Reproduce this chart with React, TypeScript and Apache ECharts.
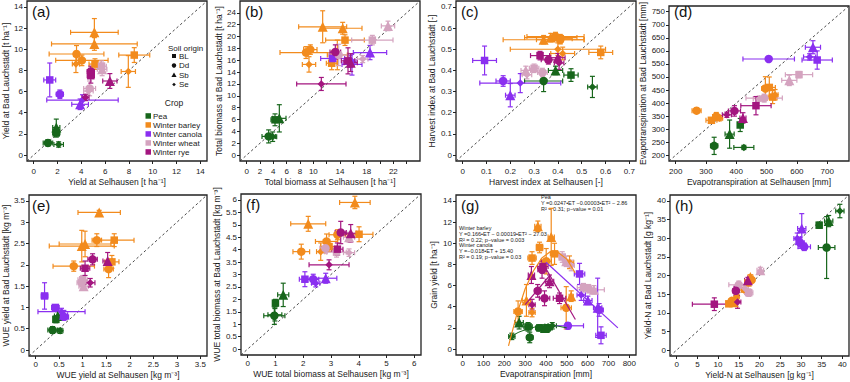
import React, { useEffect, useRef } from 'react';
import * as echarts from 'echarts';

const FONT = "'Liberation Sans', Arial, sans-serif";
const TXT = '#1a1a1a';

const CROP_NAMES = ['Pea', 'Winter barley', 'Winter canola', 'Winter wheat', 'Winter rye'];
const CROP_CODES = ['P', 'B', 'C', 'W', 'R'];
const CROP_COLORS = ['#17661b', '#f28b1d', '#8a2ff0', '#d4a3bf', '#a3157f'];
const SOIL_CODES = ['BL', 'Dd', 'Sb', 'Se'];
const SOIL_SYMBOLS = ['rect', 'circle', 'triangle', 'diamond'];
const SOIL_SIZES = [7.5, 8.5, 10, 7.5];

// rows: [crop, soil, x, y, xerr, yerr]
const panelA = [
  ['P', 'BL', 1.9, 2.1, 0.3, 0.4], ['P', 'Dd', 1.2, 1.15, 0.4, 0.3], ['P', 'Sb', 1.9, 2.6, 0.3, 0.8], ['P', 'Se', 2.1, 1.0, 0.4, 0.25],
  ['B', 'Sb', 5.1, 11.6, 2.0, 1.3], ['B', 'Sb', 5.1, 10.5, 3.6, 0.6], ['B', 'Dd', 3.6, 9.55, 2.3, 0.8], ['B', 'Dd', 4.05, 8.95, 2.2, 0.5],
  ['B', 'Se', 3.55, 8.6, 0.3, 0.8], ['B', 'BL', 8.45, 9.45, 1.3, 0.7], ['B', 'Se', 7.95, 7.9, 0.6, 1.5], ['B', 'BL', 5.15, 8.6, 0.5, 0.5],
  ['C', 'BL', 1.35, 7.1, 0.5, 1.6], ['C', 'Dd', 2.2, 5.75, 0.3, 0.4], ['C', 'Sb', 3.9, 4.8, 0.7, 0.5], ['C', 'Se', 4.1, 5.2, 3.0, 0.5],
  ['W', 'BL', 5.7, 8.4, 0.4, 0.5], ['W', 'Sb', 5.75, 8.1, 0.4, 0.6], ['W', 'Dd', 4.7, 6.3, 0.5, 0.7], ['W', 'Se', 4.6, 6.05, 0.4, 0.4],
  ['R', 'BL', 4.8, 7.5, 0.3, 0.7], ['R', 'Dd', 4.8, 7.9, 0.3, 0.5], ['R', 'Sb', 6.4, 7.0, 0.6, 0.7], ['R', 'Se', 4.35, 5.45, 0.3, 0.3],
];
const panelB = [
  ['P', 'BL', 4.25, 5.95, 0.6, 1.0], ['P', 'Dd', 3.3, 3.15, 1.0, 1.1], ['P', 'Sb', 4.9, 6.2, 1.0, 2.3], ['P', 'Se', 3.9, 3.1, 0.6, 0.8],
  ['B', 'Sb', 11.4, 21.65, 3.6, 2.7], ['B', 'Sb', 14.4, 21.4, 2.9, 1.0], ['B', 'BL', 14.75, 19.4, 2.9, 0.9], ['B', 'Dd', 9.55, 17.8, 1.0, 0.8],
  ['B', 'Dd', 8.9, 17.3, 3.9, 1.0], ['B', 'Se', 9.35, 15.3, 1.0, 1.3], ['B', 'BL', 12.75, 15.5, 0.8, 1.1], ['B', 'Se', 13.6, 16.9, 1.5, 2.5],
  ['C', 'BL', 12.9, 16.3, 1.8, 1.0], ['C', 'Dd', 15.5, 15.8, 0.9, 1.0], ['C', 'Sb', 18.5, 17.3, 2.5, 1.2], ['C', 'Se', 15.8, 15.3, 1.5, 1.8],
  ['W', 'BL', 18.85, 19.4, 3.1, 0.8], ['W', 'Dd', 13.8, 16.9, 1.5, 1.8], ['W', 'Sb', 21.2, 21.8, 1.0, 0.8], ['W', 'Se', 17.4, 16.2, 0.8, 0.6],
  ['R', 'BL', 15.2, 15.9, 1.0, 2.2], ['R', 'Dd', 13.3, 17.4, 0.8, 1.2], ['R', 'Sb', 15.6, 15.6, 1.0, 1.5], ['R', 'Se', 11.2, 12.0, 3.7, 1.1],
];
const panelC = [
  ['P', 'BL', 0.455, 0.378, 0.03, 0.03], ['P', 'Dd', 0.34, 0.35, 0.08, 0.05], ['P', 'Sb', 0.39, 0.40, 0.03, 0.02], ['P', 'Se', 0.545, 0.322, 0.02, 0.05],
  ['B', 'Sb', 0.34, 0.545, 0.17, 0.02], ['B', 'Sb', 0.37, 0.555, 0.11, 0.02], ['B', 'Dd', 0.39, 0.56, 0.12, 0.02], ['B', 'Dd', 0.41, 0.545, 0.10, 0.02],
  ['B', 'Se', 0.40, 0.50, 0.20, 0.03], ['B', 'BL', 0.58, 0.485, 0.05, 0.03], ['B', 'BL', 0.41, 0.55, 0.05, 0.02], ['B', 'Se', 0.42, 0.48, 0.05, 0.03],
  ['C', 'BL', 0.092, 0.447, 0.05, 0.068], ['C', 'Dd', 0.17, 0.35, 0.03, 0.025], ['C', 'Sb', 0.20, 0.283, 0.02, 0.055], ['C', 'Se', 0.242, 0.34, 0.17, 0.045],
  ['W', 'Sb', 0.265, 0.40, 0.02, 0.02], ['W', 'BL', 0.30, 0.41, 0.02, 0.02], ['W', 'Dd', 0.335, 0.39, 0.02, 0.02], ['W', 'Se', 0.27, 0.38, 0.02, 0.02],
  ['R', 'BL', 0.325, 0.47, 0.04, 0.02], ['R', 'Dd', 0.36, 0.45, 0.03, 0.02], ['R', 'Sb', 0.40, 0.46, 0.03, 0.02], ['R', 'Se', 0.405, 0.435, 0.02, 0.03],
];
const panelD = [
  ['P', 'Dd', 327, 236, 12, 33], ['P', 'Se', 425, 230, 33, 8], ['P', 'Sb', 378, 281, 15, 54], ['P', 'BL', 413, 316, 8, 25],
  ['B', 'Dd', 269, 371, 15, 10], ['B', 'BL', 318, 334, 18, 10], ['B', 'Dd', 334, 349, 12, 15], ['B', 'Se', 345, 342, 10, 10],
  ['B', 'BL', 509, 460, 20, 40], ['B', 'Dd', 496, 456, 12, 45], ['B', 'BL', 520, 423, 15, 25], ['B', 'Se', 528, 432, 10, 20],
  ['C', 'Dd', 507, 569, 85, 8], ['C', 'Sb', 653, 614, 25, 25], ['C', 'Se', 642, 577, 20, 12], ['C', 'BL', 667, 565, 50, 35],
  ['W', 'BL', 607, 509, 45, 12], ['W', 'Sb', 575, 487, 25, 20], ['W', 'Dd', 492, 419, 60, 15], ['W', 'Se', 476, 417, 20, 10],
  ['R', 'BL', 465, 390, 50, 35], ['R', 'Dd', 394, 370, 20, 20], ['R', 'Se', 369, 355, 15, 10], ['R', 'Sb', 422, 343, 10, 20],
];
const panelE = [
  ['P', 'BL', 0.43, 0.72, 0.05, 0.08], ['P', 'Dd', 0.36, 0.47, 0.1, 0.08], ['P', 'Sb', 0.47, 0.8, 0.07, 0.1], ['P', 'Se', 0.52, 0.45, 0.06, 0.06],
  ['B', 'Sb', 1.35, 3.23, 0.45, 0.05], ['B', 'Sb', 0.98, 2.44, 0.69, 0.37], ['B', 'Sb', 1.05, 2.49, 0.55, 0.3], ['B', 'Dd', 1.3, 2.58, 0.1, 0.15],
  ['B', 'BL', 1.67, 2.58, 0.42, 0.15], ['B', 'Dd', 0.81, 1.97, 0.44, 0.12], ['B', 'BL', 1.62, 2.07, 0.15, 0.15], ['B', 'Dd', 1.55, 1.9, 0.1, 0.2],
  ['C', 'BL', 0.19, 1.27, 0.07, 0.31], ['C', 'BL', 0.42, 1.0, 0.08, 0.06], ['C', 'Sb', 0.6, 0.83, 0.08, 0.1], ['C', 'Se', 0.55, 0.9, 0.5, 0.08], ['C', 'Dd', 0.6, 0.78, 0.1, 0.08],
  ['W', 'BL', 1.0, 1.65, 0.1, 0.1], ['W', 'Dd', 0.98, 1.58, 0.1, 0.1], ['W', 'Sb', 1.02, 1.5, 0.1, 0.1], ['W', 'Se', 1.0, 1.6, 0.08, 0.08],
  ['R', 'Sb', 1.53, 2.09, 0.1, 0.2], ['R', 'Dd', 1.21, 2.13, 0.1, 0.13], ['R', 'BL', 1.05, 1.92, 0.1, 0.17], ['R', 'Se', 1.16, 1.58, 0.1, 0.1],
];
const panelF = [
  ['P', 'Sb', 1.28, 2.18, 0.2, 0.47], ['P', 'BL', 1.0, 1.85, 0.1, 0.15], ['P', 'Dd', 0.96, 1.34, 0.38, 0.35], ['P', 'Se', 0.98, 1.38, 0.25, 0.25],
  ['B', 'Sb', 3.86, 5.9, 0.55, 0.25], ['B', 'Sb', 2.18, 5.04, 0.63, 0.3], ['B', 'BL', 4.01, 4.62, 0.5, 0.3], ['B', 'Dd', 2.84, 4.33, 0.4, 0.3],
  ['B', 'Dd', 1.93, 3.92, 0.3, 0.3], ['B', 'Se', 2.63, 3.92, 0.15, 0.35], ['B', 'Dd', 3.23, 4.6, 0.3, 0.2], ['B', 'BL', 2.93, 4.12, 0.3, 0.2],
  ['C', 'BL', 2.06, 2.81, 0.2, 0.3], ['C', 'Dd', 2.36, 2.81, 0.2, 0.2], ['C', 'Se', 2.45, 2.65, 0.15, 0.15], ['C', 'Sb', 2.81, 2.85, 0.4, 0.2],
  ['W', 'BL', 3.2, 3.9, 0.35, 0.2], ['W', 'Dd', 2.8, 4.06, 0.2, 0.2], ['W', 'Sb', 3.65, 4.5, 0.2, 0.2], ['W', 'Se', 3.65, 3.88, 0.2, 0.15],
  ['R', 'Dd', 3.35, 4.69, 0.2, 0.45], ['R', 'Sb', 3.71, 4.66, 0.2, 0.35], ['R', 'BL', 3.23, 4.02, 0.2, 0.25], ['R', 'Se', 2.93, 3.39, 0.72, 0.2],
];
const panelG = [
  ['P', 'Sb', 271, 2.5, 20, 0.6], ['P', 'BL', 314, 2.1, 20, 0.4], ['P', 'Dd', 322, 1.1, 15, 0.5], ['P', 'Se', 236, 1.2, 15, 0.3],
  ['P', 'BL', 370, 2.0, 20, 0.3], ['P', 'Sb', 395, 2.0, 25, 0.3], ['P', 'Dd', 410, 2.0, 20, 0.3], ['P', 'Se', 430, 2.2, 20, 0.3],
  ['B', 'Sb', 361, 11.6, 15, 0.5], ['B', 'Sb', 425, 10.6, 15, 2.7], ['B', 'BL', 369, 9.6, 15, 0.5], ['B', 'BL', 441, 9.0, 20, 1.0],
  ['B', 'BL', 333, 8.6, 20, 0.6], ['B', 'Dd', 401, 8.3, 25, 1.2], ['B', 'Se', 513, 8.2, 20, 0.6], ['B', 'Sb', 306, 4.6, 20, 1.5],
  ['B', 'Dd', 266, 3.55, 20, 1.0], ['B', 'Se', 333, 3.45, 15, 0.4], ['B', 'Dd', 497, 3.9, 25, 2.0], ['B', 'Sb', 521, 5.0, 10, 0.5],
  ['W', 'BL', 478, 8.7, 15, 0.5], ['W', 'Sb', 497, 8.3, 15, 0.5], ['W', 'Se', 521, 7.9, 15, 0.5], ['W', 'BL', 580, 5.8, 30, 0.4],
  ['W', 'Dd', 605, 5.7, 40, 0.4], ['W', 'Sb', 630, 5.6, 50, 0.4],
  ['R', 'BL', 385, 7.8, 25, 0.6], ['R', 'Dd', 381, 7.5, 20, 0.8], ['R', 'Sb', 330, 7.0, 15, 0.8], ['R', 'Sb', 417, 6.4, 20, 0.6],
  ['R', 'Dd', 393, 4.8, 25, 0.7], ['R', 'BL', 465, 4.8, 30, 0.5], ['R', 'Se', 333, 4.2, 15, 0.5], ['R', 'Dd', 360, 5.5, 15, 0.6],
  ['C', 'BL', 561, 7.1, 25, 1.0], ['C', 'Se', 569, 5.1, 20, 0.5], ['C', 'Sb', 601, 4.6, 20, 0.4], ['C', 'Sb', 648, 3.9, 20, 2.8],
  ['C', 'Dd', 655, 3.7, 20, 0.6], ['C', 'Dd', 505, 2.2, 75, 0.3], ['C', 'BL', 664, 1.3, 25, 0.8],
];
const panelH = [
  ['P', 'BL', 34.4, 33.5, 0.6, 0.8], ['P', 'Dd', 36.2, 27.5, 2.0, 8.3], ['P', 'Sb', 36.7, 34.6, 1.0, 1.5], ['P', 'Se', 39.4, 37.3, 1.0, 1.8],
  ['B', 'Sb', 17.8, 19.6, 0.6, 0.6], ['B', 'Dd', 18.1, 18.8, 0.6, 0.6], ['B', 'BL', 12.6, 12.4, 0.6, 0.6], ['B', 'Dd', 13.3, 13.2, 0.6, 0.6],
  ['B', 'Se', 14.5, 14.3, 0.6, 0.6], ['B', 'Se', 16.2, 16.1, 0.6, 0.6], ['B', 'BL', 17.2, 18.0, 0.6, 0.6], ['B', 'Sb', 13.8, 12.8, 0.6, 0.6],
  ['C', 'Sb', 30.2, 32.6, 1.0, 4.0], ['C', 'Se', 29.1, 29.9, 0.8, 1.5], ['C', 'Dd', 29.8, 28.8, 1.0, 1.5], ['C', 'Dd', 30.8, 27.7, 1.5, 1.0],
  ['W', 'Sb', 20.2, 21.4, 0.8, 0.8], ['W', 'BL', 17.4, 15.4, 1.0, 1.0], ['W', 'Dd', 15.0, 17.5, 2.4, 1.0], ['W', 'Se', 16.5, 16.5, 0.8, 0.8],
  ['R', 'BL', 9.1, 12.3, 5.3, 1.7], ['R', 'Dd', 14.3, 15.9, 0.8, 1.2], ['R', 'Se', 14.7, 12.9, 0.8, 1.7], ['R', 'Sb', 17.2, 18.7, 0.8, 0.8],
];

// regression lines in (g)
const gPeaFit = [[230, 1.2], [270, 1.6], [310, 1.9], [350, 2.1], [400, 2.2], [450, 2.2], [500, 2.0]];
const gBarleyFit = [[220, 0.3], [260, 3.3], [300, 5.7], [340, 7.4], [380, 8.6], [420, 9.2], [460, 9.1], [500, 8.5], [540, 7.2]];
const gCanolaFit = [[400, 8.2], [745, 2.0]];
const gRyeFitUp = [[300, 4.2], [420, 7.0]];
const gRyeFitDown = [[385, 8.1], [541, 2.8]];

// tick values / labels
const ticksA = [0, 2, 4, 6, 8, 10, 12, 14];
const ticksB = [0, 2, 4, 6, 8, 10, 12, 14, 16, 18, 20, 22, 24];
const labelsBx = [0, 2, 4, 6, 8, 10, 14, 18, 22];
const ticksC = [0, 0.1, 0.2, 0.3, 0.4, 0.5, 0.6, 0.7];
const ticksDx = [200, 300, 400, 500, 600, 700];
const ticksDy = [200, 250, 300, 350, 400, 450, 500, 550, 600, 650, 700, 750];
const ticksE = [0, 0.5, 1, 1.5, 2, 2.5, 3, 3.5];
const ticksFx = [0, 1, 2, 3, 4, 5, 6];
const ticksFy = [0, 0.5, 1, 1.5, 2, 2.5, 3, 3.5, 4, 4.5, 5, 5.5, 6];
const ticksGx = [0, 100, 200, 300, 400, 500, 600, 700, 800];
const ticksGy = [0, 2, 4, 6, 8, 10, 12, 14];
const ticksH = [0, 5, 10, 15, 20, 25, 30, 35, 40];

type Panel = {
  tag: string; rows: any[]; box: number[];
  xr: number[]; yr: number[]; xt: number[]; xl: number[]; yt: number[]; yl: number[];
  xn: string; yn: string; yGap: number; xGap: number; xMargin: number; diag: boolean;
};

const panels: Panel[] = [
  { tag: '(a)', rows: panelA, box: [27, 1, 180, 160], xr: [-0.56, 14.56], yr: [-0.56, 14.56], xt: ticksA, xl: ticksA, yt: ticksA, yl: ticksA,
    xn: 'Yield at Selhausen [t ha⁻¹]', yn: 'Yield at Bad Lauchstädt [t ha⁻¹]', yGap: 15, xGap: 16, xMargin: 6, diag: true },
  { tag: '(b)', rows: panelB, box: [240, 1, 180, 160], xr: [-1, 26], yr: [-1, 26], xt: ticksB, xl: labelsBx, yt: ticksB, yl: ticksB,
    xn: 'Total biomass at Selhausen [t ha⁻¹]', yn: 'Total biomass at Bad Lauchstädt [t ha⁻¹]', yGap: 16, xGap: 16, xMargin: 6, diag: true },
  { tag: '(c)', rows: panelC, box: [456, 1, 180, 160], xr: [-0.028, 0.728], yr: [-0.028, 0.728], xt: ticksC, xl: ticksC, yt: ticksC, yl: ticksC,
    xn: 'Harvest index at Selhausen [-]', yn: 'Harvest index at Bad Lauchstädt [-]', yGap: 18, xGap: 16, xMargin: 6, diag: true },
  { tag: '(d)', rows: panelD, box: [669, 1, 180, 160], xr: [178, 772], yr: [178, 772], xt: ticksDx, xl: ticksDx, yt: ticksDy, yl: ticksDy,
    xn: 'Evapotranspiration at Selhausen [mm]', yn: 'Evapotranspiration at Bad Lauchstädt [mm]', yGap: 21, xGap: 16, xMargin: 6, diag: true },
  { tag: '(e)', rows: panelE, box: [27, 195, 180, 161], xr: [-0.14, 3.64], yr: [-0.14, 3.64], xt: ticksE, xl: ticksE, yt: ticksE, yl: ticksE,
    xn: 'WUE yield at Selhausen [kg m⁻³]', yn: 'WUE yield at Bad Lauchstädt [kg m⁻³]', yGap: 16, xGap: 14, xMargin: 4, diag: true },
  { tag: '(f)', rows: panelF, box: [241, 194, 180, 161], xr: [-0.24, 6.24], yr: [-0.24, 6.24], xt: ticksFx, xl: ticksFx, yt: ticksFy, yl: ticksFy,
    xn: 'WUE total biomass at Selhausen [kg m⁻³]', yn: 'WUE total biomass at Bad Lauchstädt [kg m⁻³]', yGap: 17, xGap: 14, xMargin: 4, diag: true },
  { tag: '(g)', rows: panelG, box: [456, 195, 180, 160], xr: [-32, 832], yr: [-0.56, 14.56], xt: ticksGx, xl: ticksGx, yt: ticksGy, yl: ticksGy,
    xn: 'Evapotranspiration [mm]', yn: 'Grain yield [t ha⁻¹]', yGap: 18, xGap: 14, xMargin: 4, diag: false },
  { tag: '(h)', rows: panelH, box: [670, 195, 179, 161], xr: [-1.6, 41.6], yr: [-1.6, 41.6], xt: ticksH, xl: ticksH, yt: ticksH, yl: ticksH,
    xn: 'Yield-N at Selhausen [g kg⁻¹]', yn: 'Yield-N at Bad Lauchstädt [g kg⁻¹]', yGap: 18, xGap: 14, xMargin: 4, diag: true },
];

const gNotesRight = ['Pea', 'Y =0.0247•ET −0.00003•ET² − 2.86', 'R² = 0.31; p−value = 0.01'];
const gNotesLeft = ['Winter barley', 'Y =0.166•ET − 0.00019•ET² − 27.03', 'R² = 0.22; p−value = 0.003',
  'Winter canola', 'Y =−0.018•ET + 15.40', 'R² = 0.19; p−value = 0.03'];

function buildOption() {
  const grid: any[] = [];
  const xAxis: any[] = [];
  const yAxis: any[] = [];
  const series: any[] = [];
  const graphic: any[] = [];
  const nameStyle = { fontSize: 8.5, color: TXT, fontFamily: FONT };

  panels.forEach((p, i) => {
    grid.push({ left: p.box[0], top: p.box[1], width: p.box[2], height: p.box[3], show: true,
      borderColor: '#222', borderWidth: 1.3, backgroundColor: 'transparent', containLabel: false });
    xAxis.push({
      type: 'value', gridIndex: i, min: p.xr[0], max: p.xr[1], position: 'bottom',
      axisLine: { show: false, onZero: false }, splitLine: { show: false },
      axisTick: { show: true, inside: false, length: 3, lineStyle: { color: '#222', width: 1 }, customValues: p.xt },
      axisLabel: { show: true, customValues: p.xl, margin: p.xMargin, fontSize: 8, color: TXT, fontFamily: FONT, hideOverlap: false },
      name: p.xn, nameLocation: 'middle', nameGap: p.xGap, nameTextStyle: nameStyle,
    });
    yAxis.push({
      type: 'value', gridIndex: i, min: p.yr[0], max: p.yr[1], position: 'left',
      axisLine: { show: false, onZero: false }, splitLine: { show: false },
      axisTick: { show: true, inside: false, length: 3, lineStyle: { color: '#222', width: 1 }, customValues: p.yt },
      axisLabel: { show: true, customValues: p.yl, margin: 4, fontSize: 8, color: TXT, fontFamily: FONT, hideOverlap: false },
      name: p.yn, nameLocation: 'middle', nameGap: p.yGap, nameTextStyle: nameStyle,
    });
    if (p.diag) {
      series.push({ type: 'line', xAxisIndex: i, yAxisIndex: i, data: [[p.xr[0], p.yr[0]], [p.xr[1], p.yr[1]]],
        symbol: 'none', silent: true, z: 1, clip: true,
        lineStyle: { color: '#333', width: 0.9, type: [2.5, 2.5] } });
    }
    const errData = p.rows.map((r: any[]) => [r[2], r[3], r[4], r[5], CROP_CODES.indexOf(r[0])]);
    series.push({
      type: 'custom', xAxisIndex: i, yAxisIndex: i, data: errData, clip: true, z: 2, silent: true,
      encode: { x: 0, y: 1 },
      renderItem: (params: any, api: any) => {
        const x = api.value(0), y = api.value(1), ex = api.value(2), ey = api.value(3);
        const col = CROP_COLORS[api.value(4)];
        const a = api.coord([x - ex, y]), b = api.coord([x + ex, y]);
        const c = api.coord([x, y - ey]), d = api.coord([x, y + ey]);
        const cap = 2.5;
        const st = { stroke: col, lineWidth: 1.2, fill: null };
        const ln = (x1: number, y1: number, x2: number, y2: number) => ({ type: 'line', shape: { x1, y1, x2, y2 }, style: st });
        return { type: 'group', children: [
          ln(a[0], a[1], b[0], b[1]), ln(a[0], a[1] - cap, a[0], a[1] + cap), ln(b[0], b[1] - cap, b[0], b[1] + cap),
          ln(c[0], c[1], d[0], d[1]), ln(c[0] - cap, c[1], c[0] + cap, c[1]), ln(d[0] - cap, d[1], d[0] + cap, d[1]),
        ] };
      },
    });
    series.push({
      type: 'scatter', xAxisIndex: i, yAxisIndex: i, z: 3, silent: true, clip: true,
      data: p.rows.map((r: any[]) => {
        const si = SOIL_CODES.indexOf(r[1]);
        return { value: [r[2], r[3]], symbol: SOIL_SYMBOLS[si], symbolSize: SOIL_SIZES[si],
          itemStyle: { color: CROP_COLORS[CROP_CODES.indexOf(r[0])], opacity: 1 } };
      }),
    });
    graphic.push({ type: 'text', x: p.box[0] + 5, y: p.box[1] + 3,
      style: { text: p.tag, font: `15px ${FONT}`, fill: '#111', align: 'left', verticalAlign: 'top' } });
  });

  const g = 6;
  const fitLines: [number[][], string, number][] = [
    [gPeaFit, CROP_COLORS[0], 1], [gBarleyFit, CROP_COLORS[1], 1.2], [gCanolaFit, CROP_COLORS[2], 1.2],
    [gRyeFitUp, CROP_COLORS[4], 1.2], [gRyeFitDown, CROP_COLORS[4], 1.2],
  ];
  fitLines.forEach(([d, col, w]) => {
    series.push({ type: 'line', xAxisIndex: g, yAxisIndex: g, data: d, symbol: 'none', silent: true, z: 4, clip: true,
      lineStyle: { color: col, width: w } });
  });

  gNotesRight.forEach((t, k) => {
    graphic.push({ type: 'text', x: 541, y: 197 + k * 6, style: { text: t, font: `5.5px ${FONT}`, fill: TXT, verticalAlign: 'middle' } });
  });
  gNotesLeft.forEach((t, k) => {
    graphic.push({ type: 'text', x: 459, y: 228 + k * 5.8, style: { text: t, font: `5.5px ${FONT}`, fill: TXT, verticalAlign: 'middle' } });
  });

  // legend in (a)
  graphic.push({ type: 'text', x: 168, y: 48, style: { text: 'Soil origin', font: `8px ${FONT}`, fill: TXT, verticalAlign: 'middle' } });
  const soilY = [56, 65.5, 75, 84.5];
  SOIL_CODES.forEach((s, k) => {
    const cy = soilY[k];
    const cx = 174;
    let sym: any;
    if (k === 0) sym = { type: 'rect', shape: { x: cx - 2, y: cy - 2, width: 4, height: 4 }, style: { fill: '#111' } };
    else if (k === 1) sym = { type: 'circle', shape: { cx, cy, r: 2.2 }, style: { fill: '#111' } };
    else if (k === 2) sym = { type: 'polygon', shape: { points: [[cx, cy - 2.6], [cx + 2.6, cy + 2], [cx - 2.6, cy + 2]] }, style: { fill: '#111' } };
    else sym = { type: 'polygon', shape: { points: [[cx, cy - 1.8], [cx + 1.8, cy], [cx, cy + 1.8], [cx - 1.8, cy]] }, style: { fill: '#111' } };
    graphic.push(sym);
    graphic.push({ type: 'text', x: 179, y: cy, style: { text: s, font: `8px ${FONT}`, fill: TXT, verticalAlign: 'middle' } });
  });
  graphic.push({ type: 'text', x: 174, y: 103, style: { text: 'Crop', font: `8.5px ${FONT}`, fill: TXT, align: 'center', verticalAlign: 'middle' } });
  const cropY = [116, 125, 134, 143, 152];
  CROP_NAMES.forEach((c, k) => {
    graphic.push({ type: 'rect', shape: { x: 145.5, y: cropY[k] - 2.8, width: 5.5, height: 5.5 }, style: { fill: CROP_COLORS[k] } });
    graphic.push({ type: 'text', x: 153, y: cropY[k], style: { text: c, font: `8px ${FONT}`, fill: TXT, verticalAlign: 'middle' } });
  });

  return { animation: false, backgroundColor: '#ffffff', grid, xAxis, yAxis, series, graphic };
}

export default function App() {
  const ref = useRef<HTMLDivElement>(null);
  useEffect(() => {
    if (!ref.current) return;
    const chart = echarts.init(ref.current, undefined, { renderer: 'svg' });
    chart.setOption(buildOption() as any);
    return () => chart.dispose();
  }, []);
  return <div ref={ref} style={{ position: 'fixed', left: 0, top: 0, width: 850, height: 382, background: '#fff' }} />;
}
